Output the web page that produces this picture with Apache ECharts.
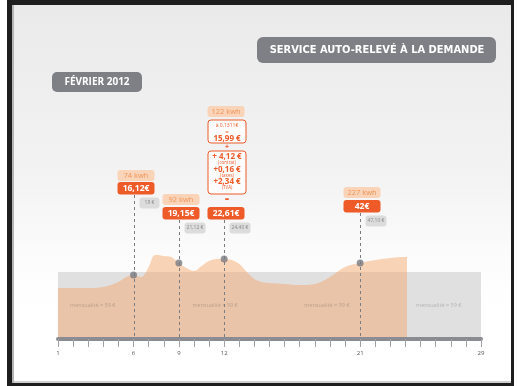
<!DOCTYPE html>
<html>
<head>
<meta charset="utf-8">
<script src="https://cdn.jsdelivr.net/npm/echarts@6/dist/echarts.min.js"></script>
<style>
  body { margin: 0; background: #fff; }
  #wrap { position: relative; width: 517px; height: 386px; overflow: hidden; }
  #frame {
    position: absolute; left: 7px; top: 0; width: 507px; height: 386px;
    box-sizing: border-box;
    border-left: 5px solid #1e1e1e; border-top: 5px solid #1e1e1e;
    border-right: 3px solid #1e1e1e; border-bottom: 3px solid #1e1e1e;
    box-shadow: inset 2px 0 0 #b4b4b4, inset 0 -2px 0 #d0d0d0;
    background: linear-gradient(#ebeaeb 0%, #f3f3f3 45%, #fbfbfb 65%, #ffffff 80%);
  }
  #main { position: absolute; left: 0; top: 0; width: 517px; height: 386px; }
</style>
</head>
<body>
<div id="wrap">
  <div id="frame"></div>
  <div id="main"></div>
</div>
<script>
// consommation journalière (jour du mois -> niveau de la courbe)
const days = [1, 2, 3, 4, 5, 5.5, 6, 6.5, 7, 7.3, 7.5, 8, 8.5, 9, 9.5, 10, 10.5, 11, 11.5, 12,
  12.5, 13, 13.5, 14, 14.5, 15, 16, 17, 18, 19, 20, 21, 22, 23, 24, 24.1];
const usage = [51, 51, 51, 52, 57, 62, 64, 62, 72, 83, 84, 83, 82, 76, 71, 68, 73, 78, 80, 80,
  79, 75, 67, 60, 57, 56, 55, 54, 55, 62, 72, 76, 79, 81, 82, 82];

// niveau de la mensualité (bande grise)
const monthlyLevel = 67;
const monthlyLabel = 'mensualité = 59 €';
const monthlyLabelDays = [3.3, 11.4, 18.8, 26.2];

// relevés
const readingDays = [6, 9, 12, 21];
const readingLevels = [64, 76, 80, 76];
const readingKwh = ['74 kwh', '92 kwh', '122 kwh', '227 kwh'];
const readingPrice = ['16,12€', '19,15€', '22,61€', '42€'];
const readingCumul = ['18 €', '21,12 €', '24,40 €', '47,10 €'];

// détail du calcul du 12
const detailRate = ['à 0,1311€', '=', '15,99 €'];
const detailExtras = [['+ 4,12 €', '(contrat)'], ['+0,16 €', '(taxes)'], ['+2,34 €', '(TVA)']];

const tickLabels = [1, 6, 9, 12, 21, 29];

// mise en page des étiquettes (px)
const kwhTop = [170, 194, 106, 187];
const priceTop = [182, 207, 207, 200];

const FONT = "'Open Sans', 'Noto Sans', sans-serif";
const ORANGE = '#ee5a28';
const GREY = '#7e8085';

const chart = echarts.init(document.getElementById('main'), null, { renderer: 'canvas' });

const baseOption = {
  animation: false,
  grid: { left: 58, right: 36, top: 139, bottom: 47 },
  xAxis: {
    type: 'value', min: 1, max: 29, interval: 1, z: 10,
    axisLine: { lineStyle: { color: '#8b8c91', width: 4 } },
    axisTick: { length: 8, lineStyle: { color: '#a3a3a7', width: 1 } },
    axisLabel: {
      formatter: v => tickLabels.includes(v) ? String(v) : '',
      fontSize: 6, color: '#555', margin: 11, fontFamily: FONT
    },
    splitLine: { show: false }
  },
  yAxis: { type: 'value', min: 0, max: 200, show: false },
  series: []
};
chart.setOption(baseOption);

const yBand = chart.convertToPixel({ yAxisIndex: 0 }, monthlyLevel);
const H = 386;
const areaColor = {
  type: 'linear', x: 0, y: 0, x2: 0, y2: H, global: true,
  colorStops: [
    { offset: 0, color: '#f9d3b5' },
    { offset: yBand / H, color: '#f9d3b5' },
    { offset: yBand / H + 0.0001, color: '#e9c4a8' },
    { offset: 1, color: '#e9c4a8' }
  ]
};

function txt(text, x, y, font, fill, align) {
  return {
    type: 'text', silent: true, z: 20,
    style: {
      text: text, x: x, y: y, font: font, fill: fill,
      align: align || 'center', textAlign: align || 'center',
      verticalAlign: 'middle', textVerticalAlign: 'middle'
    }
  };
}
function box(x, y, w, h, r, fill, stroke) {
  return {
    type: 'rect', silent: true, z: 19,
    shape: { x: x, y: y, width: w, height: h, r: r },
    style: stroke ? { fill: fill, stroke: stroke, lineWidth: 1 } : { fill: fill }
  };
}

const graphics = [];
// titres
graphics.push(box(257, 37, 239, 26, 6, GREY));
graphics.push(txt('SERVICE AUTO-RELEVÉ À LA DEMANDE', 377, 50.5, "bold 11px 'Liberation Sans Narrow', 'DejaVu Sans Condensed', " + FONT, '#fff'));
graphics.push(box(52, 72, 90, 20, 5, GREY));
graphics.push(txt('FÉVRIER 2012', 97, 82.5, 'bold 10px ' + FONT, '#fff'));

const yAxisPx = chart.convertToPixel({ yAxisIndex: 0 }, 0);
readingDays.forEach((d, i) => {
  const cx = Math.round(chart.convertToPixel({ xAxisIndex: 0 }, d)) + 0.5;
  const bx = cx + 1.5 - 18.5;
  // ligne pointillée
  graphics.push({
    type: 'line', silent: true, z: 15,
    shape: { x1: cx, y1: priceTop[i] + 13, x2: cx, y2: yAxisPx },
    style: { stroke: '#7a7c82', lineWidth: 1, lineDash: [3, 3] }
  });
  graphics.push(box(bx, kwhTop[i], 37, 11, 3, '#f9d4b8'));
  graphics.push(txt(readingKwh[i], cx + 1.5, kwhTop[i] + 6, '7.5px ' + FONT, '#f09458'));
  graphics.push(box(bx, priceTop[i], 37, 12.5, 3, ORANGE));
  graphics.push(txt(readingPrice[i], cx + 1.5, priceTop[i] + 6.5, 'bold 8.5px ' + FONT, '#fff'));
  const gw = readingCumul[i].length > 5 ? 21 : 20;
  const gTop = priceTop[i] + 15.5;
  graphics.push(box(cx + 5, gTop, gw, 11, 3, '#dcdcdd'));
  graphics.push(txt(readingCumul[i], cx + 5 + gw / 2, gTop + 5.5, '5px ' + FONT, '#8a8a8c'));
});

// détail du calcul (relevé du 12)
const c12 = Math.round(chart.convertToPixel({ xAxisIndex: 0 }, readingDays[2])) + 0.5;
const dx = c12 - 16.5;
const dc = c12 + 2.5;
graphics.push(box(dx, 120, 38, 23, 3, '#fdfdfd', ORANGE));
graphics.push(txt(detailRate[0], dc, 125.5, '5px ' + FONT, ORANGE));
graphics.push(txt(detailRate[1], dc, 132, '6px ' + FONT, ORANGE));
graphics.push(txt(detailRate[2], dc, 138.5, 'bold 8px ' + FONT, ORANGE));
graphics.push(txt('+', dc, 147, 'bold 7px ' + FONT, ORANGE));
graphics.push(box(dx, 151, 38, 43, 3, '#fdfdfd', ORANGE));
detailExtras.forEach((e, k) => {
  graphics.push(txt(e[0], dc, 157 + k * 12.4, 'bold 8px ' + FONT, ORANGE));
  graphics.push(txt(e[1], dc, 162.8 + k * 12.6, '4.5px ' + FONT, ORANGE));
});
graphics.push(txt('=', dc, 199, 'bold 7px ' + FONT, ORANGE));

chart.setOption({
  series: [
    {
      type: 'line', data: [[1, 0]], symbol: 'none', lineStyle: { width: 0 }, z: 1,
      markArea: {
        silent: true,
        itemStyle: { color: '#e1e0e1' },
        data: [[{ coord: [1, 0] }, { coord: [29, monthlyLevel] }]]
      }
    },
    {
      type: 'line', z: 2,
      data: days.map((d, i) => [d, usage[i]]),
      smooth: 0.35, symbol: 'none',
      lineStyle: { width: 0 },
      areaStyle: { color: areaColor, opacity: 1 }
    },
    {
      type: 'scatter', z: 3, symbolSize: 0,
      data: monthlyLabelDays.map(d => [d, monthlyLevel / 2]),
      label: {
        show: true, position: 'inside', formatter: monthlyLabel,
        fontSize: 5.5, fontFamily: FONT, color: 'rgba(100,88,88,0.42)'
      }
    },
    {
      type: 'scatter', z: 30, symbolSize: 7,
      data: readingDays.map((d, i) => [d, readingLevels[i]]),
      itemStyle: { color: '#7a7c82' }
    }
  ],
  graphic: graphics
});
</script>
</body>
</html>
